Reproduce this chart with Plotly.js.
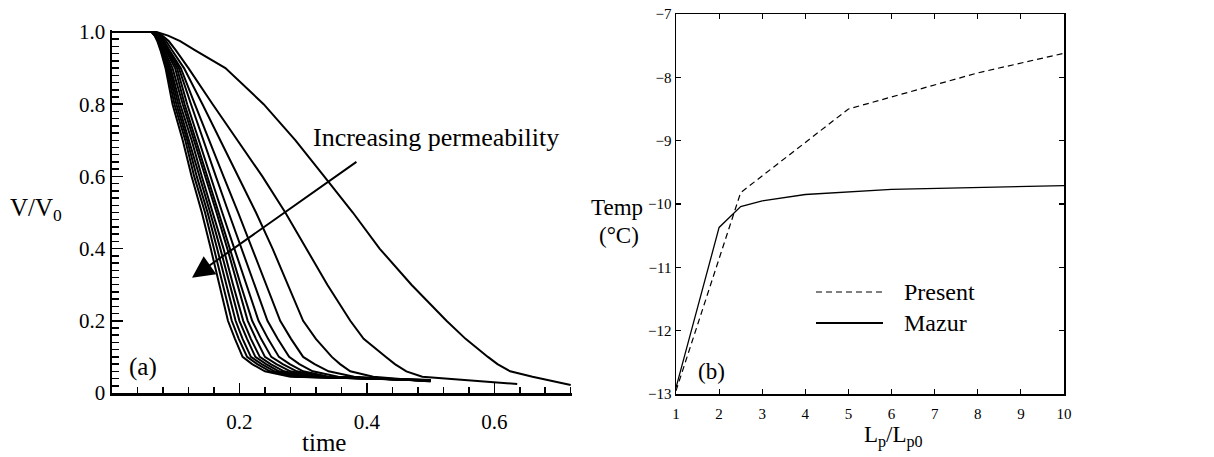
<!DOCTYPE html>
<html>
<head>
<meta charset="utf-8">
<script src="https://cdn.plot.ly/plotly-3.0.1.min.js"></script>
<style>html,body{margin:0;padding:0;background:#fff;}#chart{width:1214px;height:457px;}</style>
</head>
<body>
<div id="chart"></div>
<script>
// ---------- Panel (a): V/V0 vs time, 13 curves (slowest permeability last) ----------
// value levels shared by all curves
const vLevels = [1.0, 1.0, 0.99, 0.975, 0.95, 0.90, 0.80, 0.70, 0.60, 0.50, 0.40, 0.30, 0.20, 0.15, 0.10, 0.08, 0.06, 0.045];
// time at which each curve reaches the level above
const tDepart = [0.062, 0.062, 0.063, 0.063, 0.064, 0.064, 0.065, 0.065, 0.066, 0.066, 0.067, 0.068, 0.070];
const t099 = [0.067, 0.067, 0.068, 0.068, 0.069, 0.070, 0.071, 0.072, 0.073, 0.074, 0.076, 0.079, 0.088];
const t0975 = [0.071, 0.072, 0.073, 0.073, 0.074, 0.076, 0.077, 0.079, 0.081, 0.082, 0.085, 0.089, 0.107];
const t095 = [0.076, 0.077, 0.078, 0.079, 0.080, 0.082, 0.084, 0.086, 0.088, 0.090, 0.094, 0.100, 0.130];
const t090 = [0.084, 0.086, 0.088, 0.090, 0.092, 0.095, 0.099, 0.102, 0.105, 0.108, 0.113, 0.120, 0.178];
const t080 = [0.095, 0.098, 0.101, 0.104, 0.107, 0.111, 0.114, 0.118, 0.124, 0.130, 0.142, 0.158, 0.238];
const t070 = [0.111, 0.115, 0.118, 0.121, 0.125, 0.129, 0.132, 0.136, 0.143, 0.152, 0.170, 0.197, 0.288];
const t060 = [0.125, 0.129, 0.133, 0.137, 0.141, 0.146, 0.149, 0.154, 0.163, 0.175, 0.199, 0.236, 0.333];
const t050 = [0.141, 0.146, 0.150, 0.154, 0.158, 0.164, 0.167, 0.173, 0.183, 0.198, 0.226, 0.272, 0.378];
const t040 = [0.155, 0.160, 0.165, 0.170, 0.175, 0.181, 0.185, 0.192, 0.203, 0.220, 0.252, 0.305, 0.420];
const t030 = [0.169, 0.174, 0.179, 0.185, 0.190, 0.197, 0.202, 0.211, 0.224, 0.242, 0.276, 0.338, 0.470];
const t020 = [0.182, 0.188, 0.194, 0.200, 0.206, 0.213, 0.220, 0.230, 0.244, 0.264, 0.300, 0.374, 0.525];
const t015 = [0.193, 0.199, 0.205, 0.212, 0.218, 0.226, 0.234, 0.245, 0.260, 0.281, 0.320, 0.395, 0.555];
const t010 = [0.205, 0.212, 0.218, 0.225, 0.232, 0.240, 0.250, 0.262, 0.278, 0.300, 0.345, 0.430, 0.590];
const t008 = [0.220, 0.228, 0.235, 0.242, 0.249, 0.258, 0.268, 0.279, 0.294, 0.318, 0.358, 0.444, 0.605];
const t006 = [0.240, 0.248, 0.255, 0.262, 0.270, 0.280, 0.290, 0.300, 0.315, 0.340, 0.374, 0.462, 0.625];
const t0045 = [0.280, 0.288, 0.295, 0.302, 0.310, 0.320, 0.330, 0.340, 0.355, 0.380, 0.410, 0.487, 0.660];
const tEnd = [0.50, 0.50, 0.50, 0.50, 0.50, 0.50, 0.50, 0.50, 0.50, 0.50, 0.50, 0.636, 0.720];
const vEnd = [0.036, 0.036, 0.035, 0.035, 0.035, 0.034, 0.034, 0.034, 0.033, 0.033, 0.032, 0.025, 0.022];
const xTicksA = [0.2, 0.4, 0.6];
const yTicksA = [0, 0.2, 0.4, 0.6, 0.8, 1.0];
const yTickTextA = ['0', '0.2', '0.4', '0.6', '0.8', '1.0'];

// ---------- Panel (b): Temp vs Lp/Lp0 ----------
const presentX = [1, 2.5, 5, 8, 10];
const presentY = [-12.95, -9.82, -8.50, -7.93, -7.62];
const mazurX = [1, 2, 2.5, 3, 4, 5, 6, 10];
const mazurY = [-12.90, -10.37, -10.04, -9.95, -9.85, -9.81, -9.77, -9.71];
const xTicksB = [1, 2, 3, 4, 5, 6, 7, 8, 9, 10];
const yTicksB = [-13, -12, -11, -10, -9, -8, -7];

const FONT = 'Liberation Serif, Times New Roman, Times, serif';
const W = 1214, H = 457;
const px = v => v / W;
const py = v => 1 - v / H;

const traces = [];
for (let i = 0; i < tDepart.length; i++) {
  const t = [0, tDepart[i], t099[i], t0975[i], t095[i], t090[i], t080[i], t070[i], t060[i], t050[i], t040[i], t030[i],
             t020[i], t015[i], t010[i], t008[i], t006[i], t0045[i], tEnd[i]];
  const v = vLevels.concat([vEnd[i]]);
  traces.push({x: t, y: v, xaxis: 'x', yaxis: 'y', mode: 'lines', type: 'scatter',
    line: {color: '#000', width: 2}, hoverinfo: 'skip', showlegend: false});
}
traces.push({x: presentX, y: presentY, xaxis: 'x2', yaxis: 'y2', mode: 'lines', name: 'Present',
  line: {color: '#000', width: 1.2, dash: '6px,4px'}, showlegend: false});
traces.push({x: mazurX, y: mazurY, xaxis: 'x2', yaxis: 'y2', mode: 'lines', name: 'Mazur',
  line: {color: '#000', width: 1.3}, showlegend: false});

const tickFontA = {family: FONT, size: 21, color: '#000'};
const tickFontB = {family: FONT, size: 15, color: '#000'};

const layout = {
  width: W, height: H,
  margin: {l: 0, r: 0, t: 0, b: 0},
  paper_bgcolor: '#fff', plot_bgcolor: '#fff',
  font: {family: FONT, color: '#000'},
  showlegend: false,
  xaxis: {
    domain: [px(112), px(572)], range: [0, 0.722], anchor: 'y',
    showline: true, linecolor: '#000', linewidth: 2.5, showgrid: false, zeroline: false,
    tickmode: 'array', tickvals: xTicksA, ticktext: xTicksA.map(v => v.toFixed(1)),
    ticks: 'inside', ticklen: 10, tickwidth: 1.5, tickcolor: '#000',
    minor: {tick0: 0, dtick: 0.04, ticks: 'inside', ticklen: 6, tickwidth: 1.5, tickcolor: '#000', showgrid: false},
    tickfont: tickFontA, ticklabelstandoff: 8, automargin: false, fixedrange: true
  },
  yaxis: {
    domain: [1 - 393 / H, 1 - (32 - 0.006 * 361) / H], range: [0, 1.006], anchor: 'x',
    showline: true, linecolor: '#000', linewidth: 2.5, showgrid: false, zeroline: false,
    tickmode: 'array', tickvals: yTicksA, ticktext: yTickTextA,
    ticks: 'inside', ticklen: 11, tickwidth: 1.5, tickcolor: '#000',
    minor: {tick0: 0, dtick: 0.02, ticks: 'inside', ticklen: 7, tickwidth: 1.5, tickcolor: '#000', showgrid: false},
    tickfont: tickFontA, ticklabelstandoff: 0, automargin: false, fixedrange: true
  },
  xaxis2: {
    domain: [px(676), px(1064)], range: [1, 10], anchor: 'y2',
    showline: true, mirror: 'ticks', linecolor: '#000', linewidth: 1.5, showgrid: false, zeroline: false,
    tickmode: 'array', tickvals: xTicksB,
    ticks: 'inside', ticklen: 5, tickwidth: 1.2, tickcolor: '#000',
    tickfont: tickFontB, ticklabelstandoff: 5, automargin: false, fixedrange: true
  },
  yaxis2: {
    domain: [1 - 394 / H, 1 - 14 / H], range: [-13, -7], anchor: 'x2',
    showline: true, mirror: 'ticks', linecolor: '#000', linewidth: 1.5, showgrid: false, zeroline: false,
    tickmode: 'array', tickvals: yTicksB,
    ticks: 'inside', ticklen: 5, tickwidth: 1.2, tickcolor: '#000',
    tickfont: tickFontB, ticklabelstandoff: 0, automargin: false, fixedrange: true
  },
  shapes: [
    {type: 'line', xref: 'paper', yref: 'paper', x0: px(816), x1: px(883), y0: py(292), y1: py(292),
     line: {color: '#000', width: 1.2, dash: '6px,4px'}},
    {type: 'line', xref: 'paper', yref: 'paper', x0: px(816), x1: px(883), y0: py(323), y1: py(323),
     line: {color: '#000', width: 2}}
  ],
  annotations: [
    {xref: 'paper', yref: 'paper', x: px(36), y: py(210), text: 'V/V<sub>0</sub>', showarrow: false,
     font: {family: FONT, size: 25, color: '#000'}, xanchor: 'center', yanchor: 'middle'},
    {xref: 'paper', yref: 'paper', x: px(324), y: py(442), text: 'time', showarrow: false,
     font: {family: FONT, size: 25, color: '#000'}, xanchor: 'center', yanchor: 'middle'},
    {xref: 'paper', yref: 'paper', x: px(143), y: py(367), text: '(a)', showarrow: false,
     font: {family: FONT, size: 25, color: '#000'}, xanchor: 'center', yanchor: 'middle'},
    {xref: 'paper', yref: 'paper', x: px(436), y: py(137), text: 'Increasing permeability', showarrow: false,
     font: {family: FONT, size: 26, color: '#000'}, xanchor: 'center', yanchor: 'middle'},
    {xref: 'x', yref: 'y', x: 0.1256, y: 0.319, axref: 'x', ayref: 'y', ax: 0.386, ay: 0.643,
     text: '', showarrow: true, arrowhead: 2, arrowsize: 2.2, arrowwidth: 2, arrowcolor: '#000'},
    {xref: 'paper', yref: 'paper', x: px(617), y: py(207), text: 'Temp', showarrow: false,
     font: {family: FONT, size: 23, color: '#000'}, xanchor: 'center', yanchor: 'middle'},
    {xref: 'paper', yref: 'paper', x: px(619), y: py(235), text: '(°C)', showarrow: false,
     font: {family: FONT, size: 23, color: '#000'}, xanchor: 'center', yanchor: 'middle'},
    {xref: 'paper', yref: 'paper', x: px(893), y: py(436), text: 'L<sub>p</sub>/L<sub>p0</sub>', showarrow: false,
     font: {family: FONT, size: 23, color: '#000'}, xanchor: 'center', yanchor: 'middle'},
    {xref: 'paper', yref: 'paper', x: px(711), y: py(371), text: '(b)', showarrow: false,
     font: {family: FONT, size: 23, color: '#000'}, xanchor: 'center', yanchor: 'middle'},
    {xref: 'paper', yref: 'paper', x: px(902), y: py(292), text: 'Present', showarrow: false,
     font: {family: FONT, size: 24, color: '#000'}, xanchor: 'left', yanchor: 'middle'},
    {xref: 'paper', yref: 'paper', x: px(902), y: py(323), text: 'Mazur', showarrow: false,
     font: {family: FONT, size: 24, color: '#000'}, xanchor: 'left', yanchor: 'middle'}
  ]
};

Plotly.newPlot('chart', traces, layout, {staticPlot: true, displayModeBar: false});
</script>
</body>
</html>
